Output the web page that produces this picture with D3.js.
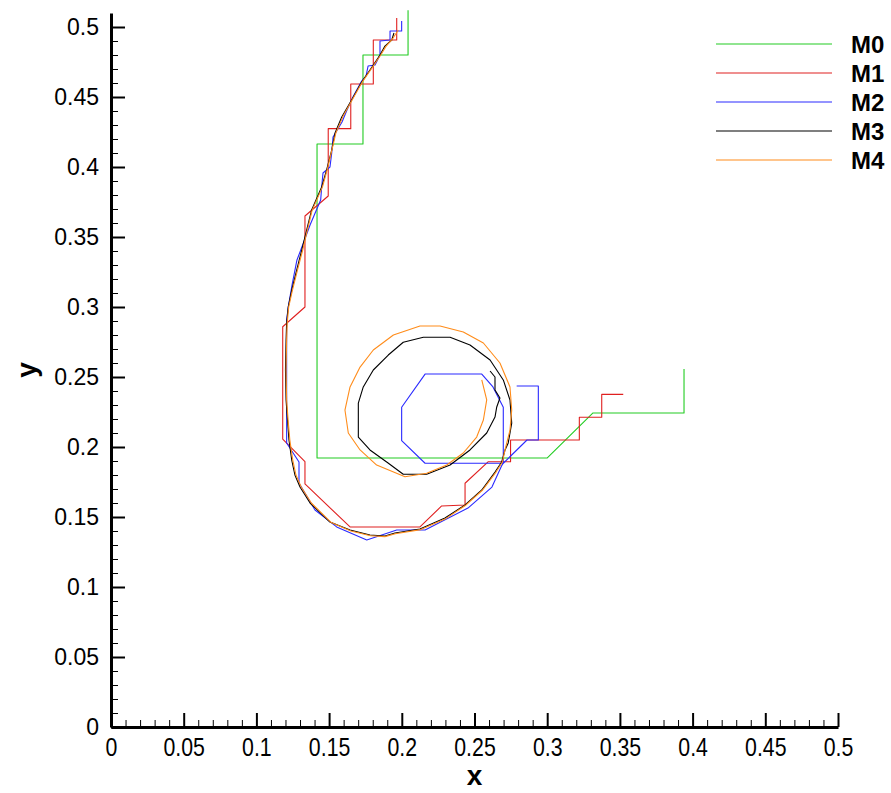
<!DOCTYPE html>
<html>
<head>
<meta charset="utf-8">
<script src="https://cdn.jsdelivr.net/npm/d3@7"></script>
<style>
  html, body { margin: 0; padding: 0; background: #fff; }
  svg { display: block; font-family: "Liberation Sans", Arial, Helvetica, sans-serif; }
</style>
</head>
<body>
<svg id="chart" width="891" height="793"></svg>
<script>
// ---- Data (x, y) ----
const seriesNames = ["M0", "M1", "M2", "M3", "M4"];
const seriesColors = ["#22cc22", "#e02020", "#2a2aff", "#000000", "#ff8c1a"];

const M0 = [[0.2043,0.512],[0.2043,0.48],[0.1733,0.48],[0.1733,0.4164],[0.1417,0.4164],[0.1417,0.1921],
  [0.2999,0.1921],[0.3315,0.2243],[0.3941,0.2243],[0.3941,0.2557]];

const M1 = [[0.1965,0.5064],[0.1965,0.4907],[0.1804,0.4907],[0.1804,0.4593],[0.1649,0.4593],[0.1649,0.4274],
  [0.1494,0.4274],[0.1494,0.3793],[0.1334,0.3650],[0.1334,0.3000],[0.1181,0.2859],[0.1181,0.2057],
  [0.1334,0.1895],[0.1334,0.1736],[0.1644,0.1429],[0.2125,0.1429],[0.2274,0.1579],[0.2435,0.1586],
  [0.2435,0.1741],[0.2595,0.1895],[0.2748,0.1895],[0.2748,0.2050],[0.3221,0.2050],[0.3221,0.2212],
  [0.3375,0.2212],[0.3375,0.2376],[0.3523,0.2376]];

const M2 = [[0.1999,0.5043],[0.1999,0.4971],[0.1919,0.4971],[0.1919,0.4907],[0.1850,0.4900],[0.1850,0.4800],
  [0.1816,0.4729],[0.1768,0.4721],[0.1754,0.4650],[0.1724,0.4614],[0.1664,0.4500],[0.1623,0.4407],
  [0.1589,0.4321],[0.1527,0.4214],[0.1518,0.4100],[0.1506,0.4000],[0.1458,0.3957],[0.1449,0.3857],
  [0.1442,0.3764],[0.1369,0.3586],[0.1300,0.3393],[0.1279,0.3336],[0.1245,0.3157],[0.1219,0.3000],
  [0.1208,0.2907],[0.1208,0.2029],[0.1293,0.1893],[0.1293,0.1743],[0.1403,0.1550],[0.1552,0.1429],
  [0.1759,0.1336],[0.1965,0.1407],[0.2160,0.1407],[0.2455,0.1564],[0.2620,0.1714],[0.2689,0.1871],
  [0.2698,0.1884],[0.2160,0.1884],[0.1999,0.2045],[0.1999,0.2284],[0.2160,0.2521],[0.2550,0.2521],
  [0.2627,0.2429],[0.2698,0.2284],[0.2698,0.1884],[0.2861,0.2050],[0.2939,0.2050],[0.2939,0.2436],
  [0.2790,0.2436]];

const M3 = [[0.1946,0.4957],[0.1931,0.4907],[0.1884,0.4864],[0.1850,0.4800],[0.1781,0.4693],[0.1724,0.4607],
  [0.1655,0.4479],[0.1587,0.4357],[0.1541,0.4243],[0.1518,0.4121],[0.1483,0.3979],[0.1449,0.3857],
  [0.1410,0.3764],[0.1380,0.3693],[0.1346,0.3550],[0.1312,0.3407],[0.1277,0.3264],[0.1243,0.3121],
  [0.1219,0.3000],[0.1208,0.2886],[0.1204,0.2764],[0.1200,0.2550],[0.1204,0.2336],[0.1214,0.2193],
  [0.1224,0.2050],[0.1243,0.1907],[0.1265,0.1800],[0.1300,0.1714],[0.1369,0.1600],[0.1506,0.1464],
  [0.1644,0.1407],[0.1781,0.1371],[0.1884,0.1364],[0.1953,0.1386],[0.2125,0.1414],[0.2297,0.1493],
  [0.2435,0.1586],[0.2550,0.1693],[0.2641,0.1821],[0.2687,0.1893],[0.2710,0.1979],[0.2732,0.2029],
  [0.2756,0.2171],[0.2744,0.2336],[0.2698,0.2479],[0.2607,0.2621],[0.2469,0.2729],[0.2332,0.2784],
  [0.2148,0.2784],[0.2010,0.2748],[0.1907,0.2657],[0.1804,0.2550],[0.1735,0.2429],[0.1701,0.2314],
  [0.1701,0.2071],[0.1781,0.1979],[0.1896,0.1893],[0.2010,0.1805],[0.2171,0.1805],[0.2332,0.1871],
  [0.2469,0.1979],[0.2584,0.2100],[0.2641,0.2214],[0.2653,0.2286],[0.2675,0.2350],[0.2641,0.2407],
  [0.2641,0.2500],[0.2607,0.2543]];

const M4 = [[0.1976,0.4979],[0.1940,0.4921],[0.1890,0.4860],[0.1855,0.4800],[0.1790,0.4700],[0.1730,0.4610],
  [0.1662,0.4485],[0.1595,0.4360],[0.1547,0.4245],[0.1520,0.4125],[0.1488,0.3985],[0.1455,0.3860],
  [0.1415,0.3765],[0.1383,0.3690],[0.1350,0.3548],[0.1318,0.3405],[0.1282,0.3262],[0.1248,0.3120],
  [0.1222,0.3000],[0.1212,0.2885],[0.1208,0.2765],[0.1204,0.2550],[0.1208,0.2336],[0.1218,0.2193],
  [0.1230,0.2050],[0.1250,0.1907],[0.1272,0.1800],[0.1308,0.1714],[0.1378,0.1600],[0.1515,0.1460],
  [0.1650,0.1400],[0.1785,0.1366],[0.1884,0.1360],[0.1955,0.1380],[0.2130,0.1410],[0.2305,0.1490],
  [0.2442,0.1586],[0.2556,0.1693],[0.2648,0.1821],[0.2692,0.1893],[0.2710,0.1979],[0.2744,0.2121],
  [0.2756,0.2264],[0.2744,0.2429],[0.2675,0.2600],[0.2561,0.2743],[0.2423,0.2821],[0.2263,0.2864],
  [0.2125,0.2864],[0.1942,0.2800],[0.1804,0.2693],[0.1713,0.2571],[0.1644,0.2429],[0.1609,0.2264],
  [0.1632,0.2100],[0.1713,0.1979],[0.1827,0.1871],[0.2022,0.1788],[0.2171,0.1812],[0.2309,0.1871],
  [0.2423,0.1957],[0.2515,0.2071],[0.2561,0.2193],[0.2584,0.2336],[0.2550,0.2479]];

const seriesData = [M0, M1, M2, M3, M4];

const xMajorTicks = [0, 0.05, 0.1, 0.15, 0.2, 0.25, 0.3, 0.35, 0.4, 0.45, 0.5];
const xTickLabels = ["0", "0.05", "0.1", "0.15", "0.2", "0.25", "0.3", "0.35", "0.4", "0.45", "0.5"];
const yMajorTicks = [0, 0.05, 0.1, 0.15, 0.2, 0.25, 0.3, 0.35, 0.4, 0.45, 0.5];
const yTickLabels = ["0", "0.05", "0.1", "0.15", "0.2", "0.25", "0.3", "0.35", "0.4", "0.45", "0.5"];
const xDomain = [0, 0.5];
const yDomain = [0, 0.51];

// ---- Layout ----
const svg = d3.select("#chart");
const mLeft = 111, mRight = 838, mBottom = 727, mTop = 13;

const x = d3.scaleLinear().domain(xDomain).range([mLeft, mRight]);
const y = d3.scaleLinear().domain(yDomain).range([mBottom, mTop]);

const minorX = d3.range(0, 51).map(i => i / 100).filter(v => Math.round(v * 100) % 5 !== 0);
const minorY = d3.range(0, 51).map(i => i / 100).filter(v => Math.round(v * 100) % 5 !== 0);

// minor ticks
svg.append("g").attr("transform", `translate(0,${mBottom})`)
  .call(d3.axisBottom(x).tickValues(minorX).tickSize(-7).tickSizeOuter(0).tickFormat(""))
  .call(g => g.select(".domain").remove())
  .call(g => g.selectAll(".tick line").attr("stroke", "#000").attr("stroke-width", 1));
svg.append("g").attr("transform", `translate(${mLeft},0)`)
  .call(d3.axisLeft(y).tickValues(minorY).tickSize(-7).tickSizeOuter(0).tickFormat(""))
  .call(g => g.select(".domain").remove())
  .call(g => g.selectAll(".tick line").attr("stroke", "#000").attr("stroke-width", 1));

// major ticks + labels
const xAxis = svg.append("g").attr("transform", `translate(0,${mBottom})`)
  .call(d3.axisBottom(x).tickValues(xMajorTicks).tickSize(-14).tickSizeOuter(0).tickPadding(11)
    .tickFormat((d, i) => xTickLabels[i]));
xAxis.select(".domain").attr("stroke", "#000").attr("stroke-width", 3);
xAxis.selectAll(".tick line").attr("stroke", "#000").attr("stroke-width", 2);
xAxis.selectAll(".tick text").attr("fill", "#000").attr("font-size", 26)
  .attr("font-family", "'Liberation Sans', Arial, sans-serif")
  .attr("transform", "scale(0.82,1)");

const yAxis = svg.append("g").attr("transform", `translate(${mLeft},0)`)
  .call(d3.axisLeft(y).tickValues(yMajorTicks).tickSize(-14).tickSizeOuter(0).tickPadding(12)
    .tickFormat((d, i) => yTickLabels[i]));
yAxis.select(".domain").attr("stroke", "#000").attr("stroke-width", 3);
yAxis.selectAll(".tick line").attr("stroke", "#000").attr("stroke-width", 2);
yAxis.selectAll(".tick text").attr("fill", "#000").attr("font-size", 23)
  .attr("font-family", "'Liberation Sans', Arial, sans-serif");

// axis titles
svg.append("text").attr("x", (mLeft + mRight) / 2).attr("y", 785)
  .attr("text-anchor", "middle").attr("font-size", 28).attr("font-weight", "bold").text("x");
svg.append("text").attr("transform", `translate(36,${(mTop + mBottom) / 2}) rotate(-90)`)
  .attr("text-anchor", "middle").attr("font-size", 28).attr("font-weight", "bold").text("y");

// lines
const line = d3.line().x(d => x(d[0])).y(d => y(d[1]));
svg.append("g").selectAll("path").data(seriesData).join("path")
  .attr("d", line)
  .attr("fill", "none")
  .attr("stroke", (d, i) => seriesColors[i])
  .attr("stroke-width", 1.1)
  .attr("stroke-linejoin", "round");

// legend
const legend = svg.append("g");
seriesNames.forEach((name, i) => {
  const ly = 44 + i * 29;
  legend.append("line").attr("x1", 716).attr("x2", 832).attr("y1", ly).attr("y2", ly)
    .attr("stroke", seriesColors[i]).attr("stroke-width", 1.1);
  legend.append("text").attr("x", 851).attr("y", ly).attr("dy", "0.36em")
    .attr("font-size", 24).attr("font-weight", "bold").attr("fill", "#000").text(name);
});
</script>
</body>
</html>
